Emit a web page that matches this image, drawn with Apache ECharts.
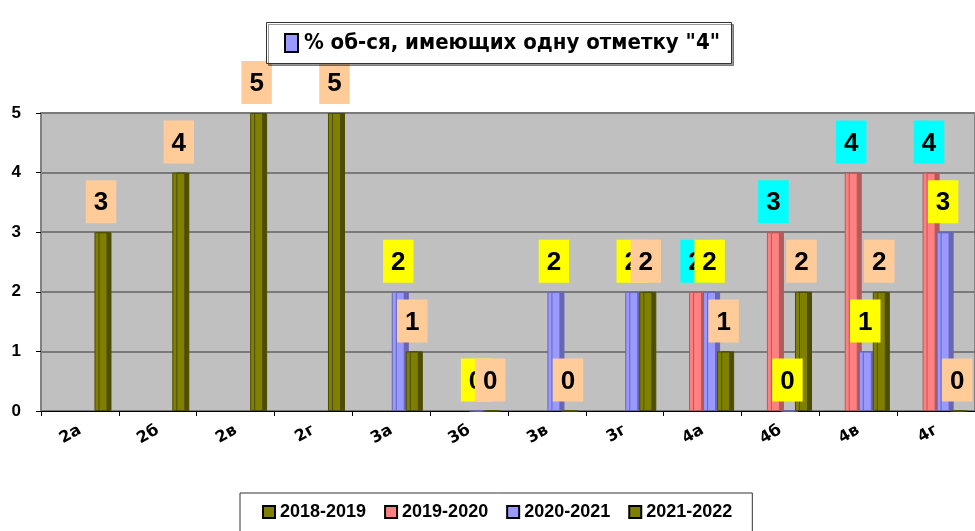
<!DOCTYPE html>
<html>
<head>
<meta charset="utf-8">
<script src="https://cdn.jsdelivr.net/npm/echarts@6/dist/echarts.min.js"></script>
<style>
  html, body { margin: 0; padding: 0; background: #fff; }
  #chart { width: 975px; height: 531px; }
</style>
</head>
<body>
<div id="chart"></div>
<script>
const classes = ['2а', '2б', '2в', '2г', '3а', '3б', '3в', '3г', '4а', '4б', '4в', '4г'];
const yearNames = ['2018-2019', '2019-2020', '2020-2021', '2021-2022'];
const y2018 = [null, null, null, null, null, null, null, null, null, null, null, null];
const y2019 = [null, null, null, null, null, null, null, null, 2, 3, 4, 4];
const y2020 = [null, null, null, null, 2, 0, 2, 2, 2, 0, 1, 3];
const y2021 = [3, 4, 5, 5, 1, 0, 0, 2, 1, 2, 2, 0];
const yTicks = [0, 1, 2, 3, 4, 5];

const barColors = ['#808000', '#ff8080', '#9999ff', '#808000'];
const sideColors = ['#4d4d00', '#b35a5a', '#6666b3', '#4d4d00'];
const labelBg = ['#ffcc99', '#00ffff', '#ffff00', '#ffcc99'];

const chart = echarts.init(document.getElementById('chart'));

// one bar series per school year, with a darker side to hint at the 3D look
function makeSeries(idx, values) {
  return {
    name: yearNames[idx],
    type: 'bar',
    data: values,
    barWidth: 13,
    barGap: '8%',
    itemStyle: {
      color: barColors[idx],
      borderColor: sideColors[idx],
      borderWidth: 1,
      shadowColor: sideColors[idx],
      shadowOffsetX: 4,
      shadowOffsetY: 0,
      shadowBlur: 0
    },
    label: {
      show: true,
      position: 'top',
      distance: 9,
      color: '#000',
      fontSize: 26,
      fontWeight: 'bold',
      fontFamily: 'Liberation Sans',
      backgroundColor: labelBg[idx],
      padding: [10, 8, 7, 8],
      formatter: (p) => (p.value === null ? '' : p.value)
    }
  };
}

const option = {
  backgroundColor: '#fff',
  animation: false,
  title: {
    text: '{box|}{t| % об-ся, имеющих одну отметку "4"}',
    left: 268,
    top: 20,
    padding: [10, 12, 10, 18],
    borderColor: '#333',
    borderWidth: 1,
    shadowColor: 'rgba(0,0,0,0.4)',
    shadowOffsetX: 2,
    shadowOffsetY: 2,
    backgroundColor: '#fff',
    textStyle: {
      rich: {
        box: {
          width: 11,
          height: 16,
          backgroundColor: '#9999ff',
          borderColor: '#000',
          borderWidth: 2
        },
        t: {
          fontSize: 22,
          fontWeight: 'bold',
          color: '#000',
          fontFamily: 'Liberation Sans Narrow, DejaVu Sans Condensed, Liberation Sans',
          lineHeight: 26
        }
      }
    }
  },
  legend: {
    data: yearNames,
    left: 240,
    top: 493,
    padding: [10, 20, 20, 22],
    borderColor: '#333',
    borderWidth: 1,
    itemGap: 18,
    itemWidth: 12,
    itemHeight: 12,
    icon: 'rect',
    itemStyle: {
      borderColor: '#000',
      borderWidth: 2,
      shadowBlur: 0,
      shadowOffsetX: 0,
      shadowOffsetY: 0
    },
    textStyle: {
      fontSize: 18,
      fontWeight: 'bold',
      color: '#000',
      fontFamily: 'Liberation Sans Narrow, Liberation Sans'
    }
  },
  grid: {
    left: 41,
    top: 113,
    width: 936,
    bottom: 120,
    show: true,
    backgroundColor: '#c0c0c0',
    borderColor: '#808080',
    borderWidth: 2
  },
  xAxis: {
    type: 'category',
    data: classes,
    axisLine: { lineStyle: { color: '#000', width: 1 } },
    axisTick: { show: true, length: 5, lineStyle: { color: '#000' } },
    axisLabel: {
      rotate: 30,
      margin: 18,
      fontSize: 16,
      fontWeight: 'bold',
      color: '#000',
      fontFamily: 'DejaVu Sans'
    }
  },
  yAxis: {
    type: 'value',
    min: yTicks[0],
    max: yTicks[yTicks.length - 1],
    interval: 1,
    axisLine: { show: true, lineStyle: { color: '#808080' } },
    axisTick: { show: true, length: 5, lineStyle: { color: '#000' } },
    splitLine: { lineStyle: { color: '#7a7a7a', width: 2 } },
    axisLabel: {
      margin: 20,
      fontSize: 17,
      fontWeight: 'bold',
      color: '#000',
      fontFamily: 'Liberation Sans'
    }
  },
  series: [
    makeSeries(0, y2018),
    makeSeries(1, y2019),
    makeSeries(2, y2020),
    makeSeries(3, y2021)
  ]
};

chart.setOption(option);
</script>
</body>
</html>
